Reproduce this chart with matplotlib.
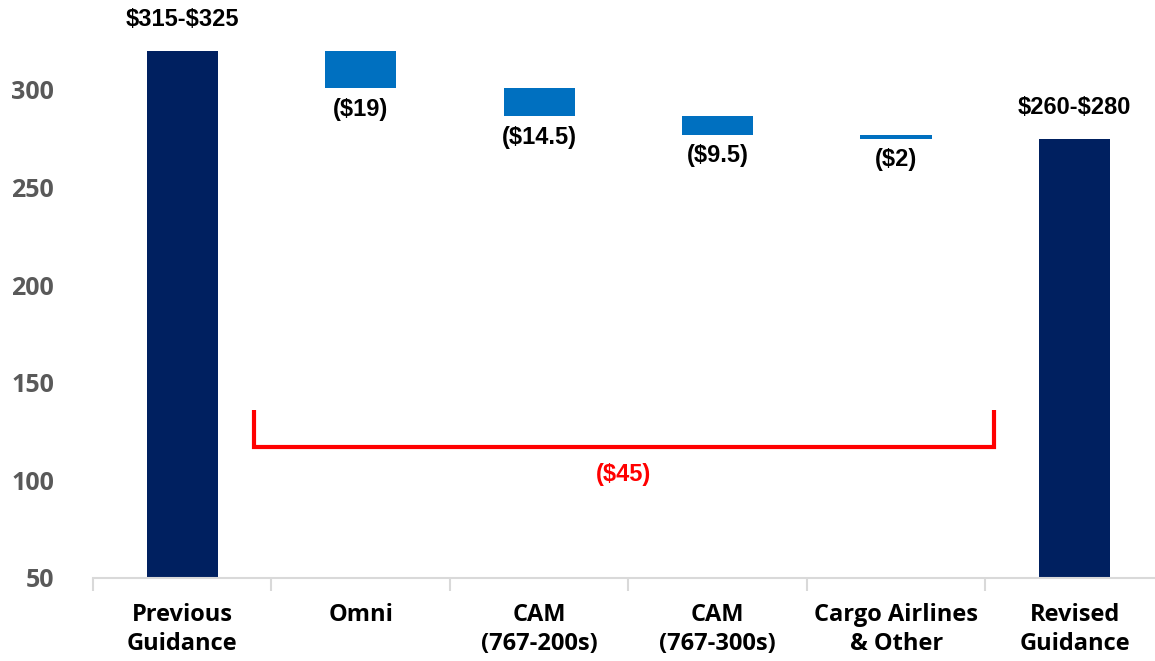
import numpy as np
import matplotlib.pyplot as plt

# data
categories = ['Previous\nGuidance', 'Omni', 'CAM\n(767-200s)', 'CAM\n(767-300s)',
              'Cargo Airlines\n& Other', 'Revised\nGuidance']
start_value = 320
changes = [-19, -14.5, -9.5, -2]
value_labels = [r'\$315-\$325', r'(\$19)', r'(\$14.5)', r'(\$9.5)', r'(\$2)', r'\$260-\$280']
total_label = r'(\$45)'
y_ticks = [50, 100, 150, 200, 250, 300]

navy = '#002060'
blue = '#0070C0'
base = 50

fig = plt.figure(figsize=(11.55, 6.61), dpi=100)
ax = fig.add_axes([0.0805, 0.1256, 0.9195, 0.8744])

x = np.arange(len(categories))
w = 0.4
narrow = ['Liberation Sans', 'DejaVu Sans']
wide = ['Open Sans', 'DejaVu Sans']

# first and last bars
end_value = start_value + sum(changes)
ax.bar(0, start_value - base, bottom=base, width=w, color=navy)
ax.bar(5, end_value - base, bottom=base, width=w, color=navy)

# floating bars
level = start_value
for i, c in enumerate(changes, start=1):
    ax.bar(i, -c, bottom=level + c, width=w, color=blue)
    ax.text(i, level + c - 5, value_labels[i], ha='center', va='top',
            fontsize=17, fontweight='bold', family=narrow)
    level += c

ax.text(0, start_value + 10, value_labels[0], ha='center', va='bottom',
        fontsize=17, fontweight='bold', family=narrow)
ax.text(5, end_value + 10, value_labels[5], ha='center', va='bottom',
        fontsize=17, fontweight='bold', family=narrow)

# bracket for total change
bx0, bx1 = 0.4, 4.55
ax.plot([bx0, bx0, bx1, bx1], [136, 117, 117, 136], color='red', lw=3,
        solid_joinstyle='miter', solid_capstyle='butt')
ax.text((bx0 + bx1) / 2, 109, total_label, ha='center', va='top', color='red',
        fontsize=17, fontweight='bold', family=narrow)

ax.set_xlim(-0.5, 5.45)
ax.set_ylim(base, 346)
ax.set_yticks(y_ticks)
ax.set_yticklabels([str(t) for t in y_ticks], fontsize=18, fontweight='bold',
                   color='#595959', family=wide)
ax.tick_params(axis='y', length=0, pad=28)

ax.set_xticks(x)
ax.set_xticklabels(categories, fontsize=17, fontweight='bold',
                   family=wide, linespacing=1.3)
ax.tick_params(axis='x', length=0, pad=18)
ax.set_xticks(np.arange(-0.5, 5.5, 1), minor=True)
ax.tick_params(axis='x', which='minor', length=9, width=1.5, color='#d9d9d9')

for s in ['top', 'right', 'left']:
    ax.spines[s].set_visible(False)
ax.spines['bottom'].set_color('#d9d9d9')
ax.spines['bottom'].set_linewidth(1.5)

fig.savefig('out.png', dpi=100)
